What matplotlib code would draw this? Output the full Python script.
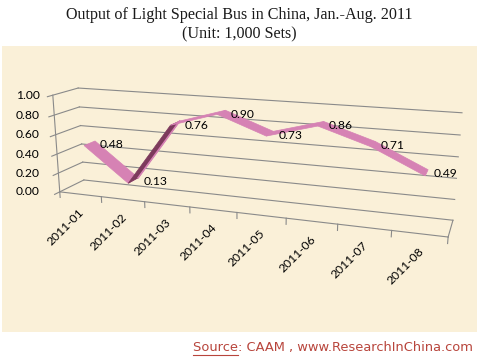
import numpy as np
import matplotlib.pyplot as plt
from matplotlib.patches import Polygon, Rectangle

# data
months = ['2011-01', '2011-02', '2011-03', '2011-04',
          '2011-05', '2011-06', '2011-07', '2011-08']
output = [0.48, 0.13, 0.76, 0.90, 0.73, 0.86, 0.71, 0.49]
yticks = [0.0, 0.2, 0.4, 0.6, 0.8, 1.0]

title = 'Output of Light Special Bus in China, Jan.-Aug. 2011'
subtitle = '(Unit: 1,000 Sets)'
source = 'Source: CAAM , www.ResearchInChina.com'

W, H = 483, 362
n = len(months)

# box corners in (category, value, depth) and where they sit on the page,
# used to fit a perspective camera like the excel 3d chart
world = np.array([[0, 0, 0], [0, 1, 0], [0, 0, 1], [0, 1, 1], [n, 0, 1],
                  [n, 1, 1], [n, 0, 0], [2, 0, 0], [4, 0, 0], [6, 0, 0]], float)
pix = np.array([[60, 192], [53, 95], [84, 180], [78, 88], [453, 220],
                [462, 113], [448, 237], [144, 201.7], [237, 212.5], [338, 224.2]])

A = []
b = []
for (X, Y, Z), (u, v) in zip(world, pix):
    A.append([X, Y, Z, 1, 0, 0, 0, 0, -u*X, -u*Y, -u*Z])
    b.append(u)
    A.append([0, 0, 0, 0, X, Y, Z, 1, -v*X, -v*Y, -v*Z])
    b.append(v)
p = np.linalg.lstsq(np.array(A), np.array(b), rcond=None)[0]
P = np.append(p, 1).reshape(3, 4)


def proj(x, y, z):
    x, y, z = np.broadcast_arrays(np.asarray(x, float), np.asarray(y, float), np.asarray(z, float))
    q = P @ np.vstack([x.ravel(), y.ravel(), z.ravel(), np.ones(x.size)])
    return q[0] / q[2], q[1] / q[2]


def area(px, py):
    return 0.5 * np.sum(px * np.roll(py, -1) - np.roll(px, -1) * py)


fig = plt.figure(figsize=(W / 100, H / 100), dpi=100)
ax = fig.add_axes([0, 0, 1, 1])
ax.set_xlim(0, W)
ax.set_ylim(H, 0)
ax.axis('off')

ax.add_patch(Rectangle((2, 46), 475, 286, fc='#FAF0D8', ec='none'))

grid = '#8A8A8A'
for v in yticks:
    x, y = proj([0, 0], [v, v], [-0.2, 1])
    ax.plot(x, y, color=grid, lw=0.8)
    x, y = proj([0, n], [v, v], [1, 1])
    ax.plot(x, y, color=grid, lw=0.8)

x, y = proj([0, 0], [0, 1], [0, 0])
ax.plot(x, y, color=grid, lw=0.8)
x, y = proj([0, n], [0, 0], [0, 0])
ax.plot(x, y, color=grid, lw=0.8)
x, y = proj([n, n], [0, 0], [0, 1])
ax.plot(x, y, color=grid, lw=0.8)
for k in range(n + 1):
    x, y = proj([k, k], [0, -0.06], [0, 0])
    ax.plot(x, y, color=grid, lw=0.8)

lab_font = dict(family='Lato', size=8.7, color='black')
x0 = proj(0, 0, 0)[0][0]
for v in yticks:
    y = proj(0, v, 0)[1][0]
    ax.text(x0 - 20, y, f'{v:.2f}', ha='right', va='center', **lab_font)

for k, m in enumerate(months):
    x, y = proj(k + 0.5, 0, 0)
    ax.text(x[0] + 2, y[0] + 16, m, rotation=45, ha='right', va='center',
            rotation_mode='anchor', **lab_font)

# ribbon
pink = '#D682B4'
dark = '#7D3A5C'
xs = np.arange(n) + 0.5
vals = np.array(output)
z0, z1 = 0.27, 0.73
for i in range(n - 1):
    xa, xb = xs[i], xs[i + 1]
    va, vb = vals[i], vals[i + 1]
    px, py = proj([xa, xb, xb, xa], [va, vb, vb, va], [z0, z0, z1, z1])
    rx, ry = proj([xa, xb, xb, xa], [va, va, va, va], [z0, z0, z1, z1])
    top = np.sign(area(px, py)) == np.sign(area(rx, ry))
    c = pink if top else dark
    ax.add_patch(Polygon(np.column_stack([px, py]), closed=True, fc=c, ec=c, lw=0.5, zorder=3))
    if not top:
        ex, ey = proj([xa, xb], [va, vb], [z1, z1])
        ax.plot(ex, ey, color=pink, lw=1.2, zorder=4)

for xi, v in zip(xs, vals):
    x, y = proj(xi, v, z1)
    ax.text(x[0] + 5, y[0] + 4, f'{v:.2f}', ha='left', va='center', zorder=5, **lab_font)

ax.text(W / 2 - 2, 15, title, ha='center', va='center', family='Liberation Serif',
        size=11.6, color='#1A1A1A')
ax.text(W / 2 - 2, 34, subtitle, ha='center', va='center', family='Liberation Serif',
        size=11.6, color='#1A1A1A')

src_col = '#B8453C'
t = ax.text(473, 347, source, ha='right', va='center', family='DejaVu Sans',
            size=9.4, color=src_col)
fig.canvas.draw()
r = fig.canvas.get_renderer()
bb = t.get_window_extent(r)
s = ax.text(0, 0, 'Source', family='DejaVu Sans', size=9.4)
sw = s.get_window_extent(r).width
s.remove()
left = bb.x0
uy = H - bb.y0 + 1
ax.plot([left, left + sw], [uy, uy], color=src_col, lw=0.8)

fig.savefig('out.png', dpi=100)
